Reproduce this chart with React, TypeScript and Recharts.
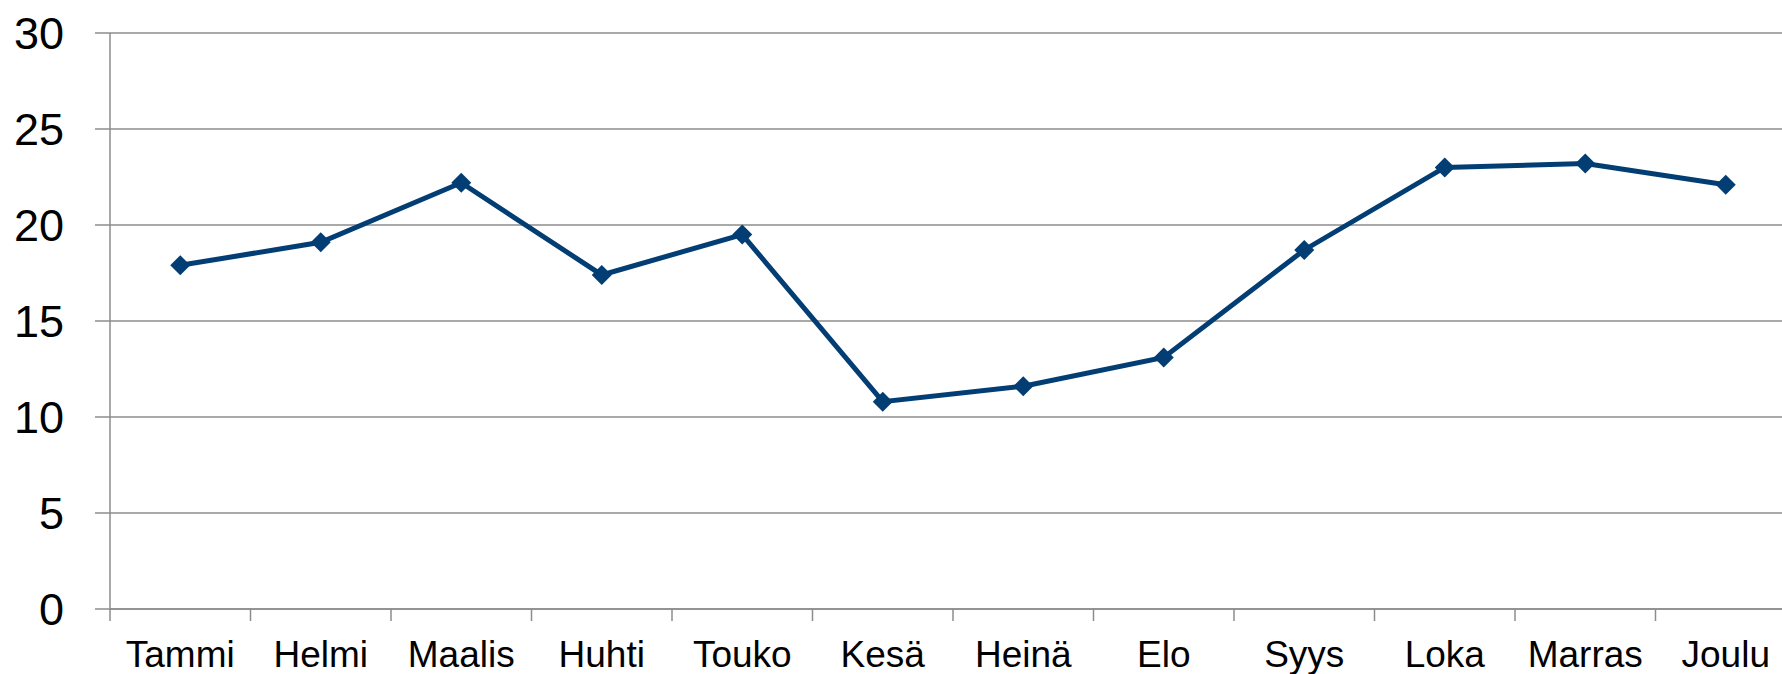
import { LineChart, Line, XAxis, YAxis, CartesianGrid } from "recharts";

const months = ["Tammi", "Helmi", "Maalis", "Huhti", "Touko", "Kesä", "Heinä", "Elo", "Syys", "Loka", "Marras", "Joulu"];
const values = [17.9, 19.1, 22.2, 17.4, 19.5, 10.8, 11.6, 13.1, 18.7, 23.0, 23.2, 22.1];
const yTicks = [0, 5, 10, 15, 20, 25, 30];

const data = months.map((m, i) => ({ month: m, value: values[i] }));

const LINE = "#023e74";
const GRID = "#8c8c8c";
const FONT = "'Liberation Sans', Arial, sans-serif";

const Diamond = (props: any) => {
  const { cx, cy, index } = props;
  if (cx == null || cy == null) return null;
  const r = 10;
  return (
    <path
      key={index}
      d={`M${cx},${cy - r} L${cx + r},${cy} L${cx},${cy + r} L${cx - r},${cy} Z`}
      fill={LINE}
    />
  );
};

// category label plus tick marks on the band edges
const XTick = (props: any) => {
  const { x, y, payload } = props;
  const half = payload.offset || 0;
  const last = payload.index === months.length - 1;
  return (
    <g>
      <line x1={x - half} y1={y} x2={x - half} y2={y + 12} stroke={GRID} strokeWidth={1.5} />
      {last && (
        <line x1={x + half} y1={y} x2={x + half} y2={y + 12} stroke={GRID} strokeWidth={1.5} />
      )}
      <text
        x={x}
        y={y + 32}
        dy="0.71em"
        textAnchor="middle"
        fill="#000"
        fontSize={37}
        fontFamily={FONT}
      >
        {payload.value}
      </text>
    </g>
  );
};

// y tick: short stub left of the axis plus the label
const YTick = (props: any) => {
  const { x, y, payload } = props;
  return (
    <g>
      <line x1={x - 15} y1={y} x2={x} y2={y} stroke={GRID} strokeWidth={1.5} />
      <text
        x={x - 46}
        y={y}
        dy="0.36em"
        textAnchor="end"
        fill="#000"
        fontSize={45}
        fontFamily={FONT}
      >
        {payload.value}
      </text>
    </g>
  );
};

export default function App() {
  return (
    <div
      style={{
        position: "fixed",
        left: 0,
        top: 0,
        width: 1782,
        height: 674,
        overflow: "hidden",
        background: "#fff",
      }}
    >
      <LineChart
        width={1800}
        height={674}
        data={data}
        margin={{ top: 33, right: 4, bottom: 0, left: 0 }}
      >
        <CartesianGrid vertical={false} stroke={GRID} strokeWidth={1.5} />
        <XAxis
          dataKey="month"
          scale="band"
          height={65}
          interval={0}
          axisLine={{ stroke: GRID, strokeWidth: 1.5 }}
          tickLine={false}
          tickSize={0}
          tickMargin={0}
          tick={XTick}
        />
        <YAxis
          domain={[0, 30]}
          ticks={yTicks}
          width={110}
          tickSize={0}
          tickMargin={0}
          tickLine={false}
          axisLine={{ stroke: GRID, strokeWidth: 1.5 }}
          tick={YTick}
        />
        <Line
          type="linear"
          dataKey="value"
          stroke={LINE}
          strokeWidth={5}
          dot={Diamond}
          activeDot={false}
          isAnimationActive={false}
        />
      </LineChart>
    </div>
  );
}
